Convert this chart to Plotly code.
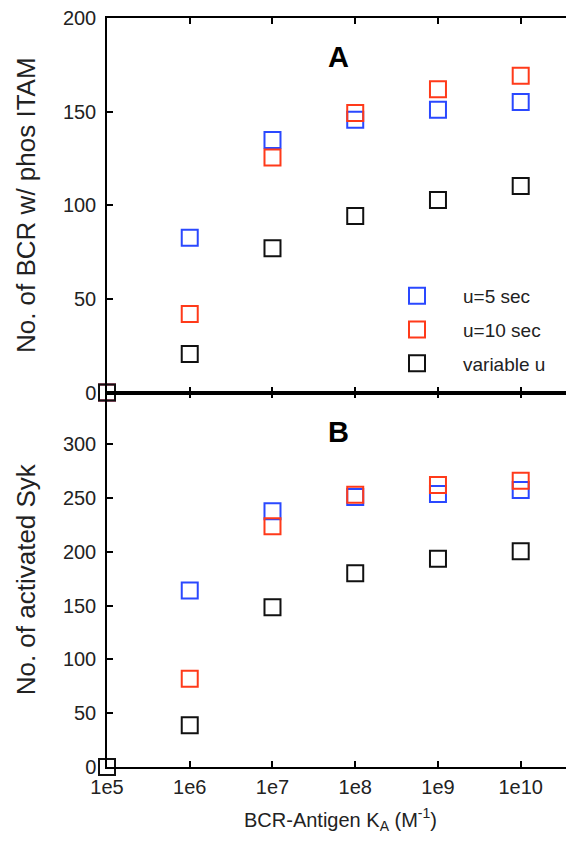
import plotly.graph_objects as go
from plotly.subplots import make_subplots

ka = [1e5, 1e6, 1e7, 1e8, 1e9, 1e10]
ka_labels = ["1e5", "1e6", "1e7", "1e8", "1e9", "1e10"]

# Panel A: No. of BCR w/ phos ITAM
itam_u5 = [0, 82.7, 134.9, 145.6, 151, 155.2]
itam_u10 = [0, 41.9, 125.5, 149.3, 162, 169.1]
itam_var = [0, 20.5, 77, 94.3, 102.8, 110.3]

# Panel B: No. of activated Syk
syk_u5 = [0, 164, 237.6, 251, 253.7, 257.4]
syk_u10 = [0, 82, 223.6, 253, 262, 266]
syk_var = [0, 38.7, 148.5, 180, 193.4, 200.4]

names = ["u=5 sec", "u=10 sec", "variable u"]
colors = ["#2a48ff", "#ff3a1a", "#111111"]

FONT = "Liberation Sans, Arial, Helvetica, sans-serif"

# page body has an 8px margin; figure sized so the page does not overflow
OFF = 8
W, H = 566, 829
L, R, T, B = 99, 0, 10, 70
W_plot = W - L - R
H_plot = H - T - B

def px_x(sx):
    return (sx - OFF - L) / W_plot

def px_y(sy):
    return 1 - (sy - OFF - T) / H_plot

fig = make_subplots(rows=2, cols=1, shared_xaxes=False, vertical_spacing=0.0)

for i, (ya, yb) in enumerate([(itam_u5, syk_u5), (itam_u10, syk_u10), (itam_var, syk_var)]):
    mk = dict(symbol="square-open", size=16, color=colors[i], line=dict(width=2, color=colors[i]))
    fig.add_trace(go.Scatter(x=ka, y=ya, mode="markers", name=names[i], marker=mk,
                             legendgroup=names[i], cliponaxis=False), row=1, col=1)
    fig.add_trace(go.Scatter(x=ka, y=yb, mode="markers", name=names[i], marker=mk,
                             legendgroup=names[i], showlegend=False, cliponaxis=False), row=2, col=1)

xr = [5, 10.644]
common_x = dict(type="log", range=xr, showline=True, linecolor="black", linewidth=1.5,
                ticks="inside", ticklen=6, tickwidth=1.5, tickcolor="black",
                mirror="ticks", showgrid=False, zeroline=False, automargin=False,
                tickvals=ka, ticktext=ka_labels, ticklabeloverflow="allow",
                tickfont=dict(family=FONT, size=20, color="#222"))
fig.update_xaxes(**common_x)
fig.update_xaxes(showticklabels=False, row=1, col=1)
fig.update_xaxes(ticklabelstandoff=1,
                 title=dict(text="BCR-Antigen K<sub>A</sub> (M<sup>-1</sup>)",
                            font=dict(family=FONT, size=20, color="#222"), standoff=16),
                 row=2, col=1)

common_y = dict(showline=True, linecolor="black", linewidth=1.5,
                ticks="inside", ticklen=6, tickwidth=1.5, tickcolor="black",
                showgrid=False, zeroline=False, ticklabelstandoff=5, automargin=False,
                ticklabeloverflow="allow",
                tickfont=dict(family=FONT, size=20, color="#222"))
fig.update_yaxes(**common_y)
fig.update_yaxes(range=[0, 200], tickvals=[0, 50, 100, 150, 200],
                 title=dict(text="No. of BCR w/ phos ITAM",
                            font=dict(family=FONT, size=26, color="#222"), standoff=20),
                 row=1, col=1)
fig.update_yaxes(range=[0, 348], tickvals=[0, 50, 100, 150, 200, 250, 300],
                 title=dict(text="No. of activated Syk",
                            font=dict(family=FONT, size=26, color="#222"), standoff=20),
                 row=2, col=1)

fig.update_layout(
    yaxis=dict(domain=[0.5, 1.0]),
    yaxis2=dict(domain=[0.0, 0.5]),
    xaxis=dict(domain=[0, 1]),
    xaxis2=dict(domain=[0, 1]),
    width=W, height=H,
    margin=dict(l=L, r=R, t=T, b=B, autoexpand=False),
    paper_bgcolor="white", plot_bgcolor="white",
    showlegend=True,
    legend=dict(x=px_x(371), y=px_y(330), xref="paper", yref="paper",
                xanchor="left", yanchor="middle",
                bgcolor="rgba(0,0,0,0)", font=dict(family=FONT, size=19, color="#222"),
                tracegroupgap=6, itemwidth=82),
    annotations=[
        dict(text="<b>A</b>", x=px_x(338), y=px_y(57), xref="paper", yref="paper", showarrow=False,
             xanchor="center", yanchor="middle",
             font=dict(family=FONT, size=29, color="black")),
        dict(text="<b>B</b>", x=px_x(338), y=px_y(432), xref="paper", yref="paper", showarrow=False,
             xanchor="center", yanchor="middle",
             font=dict(family=FONT, size=29, color="black")),
    ],
)

fig.write_html("out.html")
